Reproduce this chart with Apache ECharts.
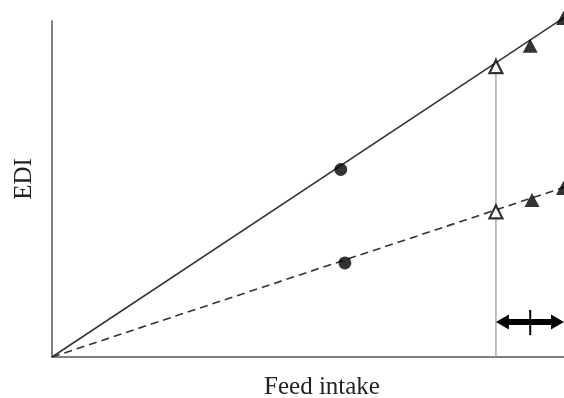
<!DOCTYPE html>
<html><head><meta charset="utf-8">
<script src="https://cdn.jsdelivr.net/npm/echarts@6/dist/echarts.min.js"></script>
<style>html,body{margin:0;padding:0;background:#fff}#c{width:564px;height:398px}</style>
</head><body><div id="c"></div>
<script>
// Solid line (upper) marks
const solidLine = [[0, 0], [100, 101]];
const solidCircle = [[56.4, 55.8]];
const solidOpenTri = [[86.7, 86.4]];
const solidFilledTri = [[93.4, 92.6], [99.9, 100.9]];
// Dashed line (lower) marks
const dashedLine = [[0, 0], [100, 50.5]];
const dashedCircle = [[57.2, 28.0]];
const dashedOpenTri = [[86.7, 43.2]];
const dashedFilledTri = [[93.75, 46.7], [99.9, 50.3]];
// Vertical reference line and double arrow
const vLine = [[86.7, 0], [86.7, 89.3]];
const arrowX = [86.7, 100];
const arrowY = 10.4;
const tickX = 93.4;
const tickY = [6.5, 14];

const chart = echarts.init(document.getElementById('c'));
const font = '"Liberation Serif", "Times New Roman", serif';
chart.setOption({
  animation: false,
  grid: {left: 52, right: 0, top: 21, bottom: 41, containLabel: false, outerBoundsMode: 'none'},
  xAxis: {type: 'value', min: 0, max: 100,
    name: 'Feed intake', nameLocation: 'middle', nameGap: 18,
    nameTextStyle: {fontFamily: font, fontSize: 25, color: '#222', padding: [0, 0, 0, 28]},
    axisLine: {lineStyle: {color: '#555', width: 1.5}},
    axisTick: {show: false}, axisLabel: {show: false}, splitLine: {show: false}},
  yAxis: {type: 'value', min: 0, max: 100,
    name: 'EDI', nameLocation: 'middle', nameGap: 15,
    nameTextStyle: {fontFamily: font, fontSize: 25, color: '#222', padding: [0, 0, 0, 20]},
    axisLine: {show: true, lineStyle: {color: '#555', width: 1.5}},
    axisTick: {show: false}, axisLabel: {show: false}, splitLine: {show: false}},
  series: [
    {type: 'line', data: vLine, showSymbol: false, lineStyle: {color: '#aaa', width: 1.5}, z: 1},
    {type: 'line', data: solidLine, showSymbol: false, clip: false, lineStyle: {color: '#333', width: 1.5}, z: 2},
    {type: 'line', data: dashedLine, showSymbol: false, clip: false, lineStyle: {color: '#333', width: 1.6, type: [8, 5]}, z: 2},
    {type: 'scatter', data: solidCircle.concat(dashedCircle), symbol: 'circle', symbolSize: 13, itemStyle: {color: '#000'}, z: 3},
    {type: 'scatter', data: solidFilledTri.concat(dashedFilledTri), symbol: 'triangle', symbolSize: [15, 14], clip: false, itemStyle: {color: '#000'}, z: 3},
    {type: 'scatter', data: solidOpenTri.concat(dashedOpenTri), symbol: 'triangle', symbolSize: [13, 13], itemStyle: {color: '#fff', borderColor: '#000', borderWidth: 2.2}, z: 4},
    {type: 'custom', data: [[arrowX[0], arrowX[1], arrowY, tickX, tickY[0], tickY[1]]], clip: false, z: 5,
      renderItem: function (params, api) {
        const p0 = api.coord([api.value(0), api.value(2)]);
        const p1 = api.coord([api.value(1), api.value(2)]);
        const t0 = api.coord([api.value(3), api.value(4)]);
        const t1 = api.coord([api.value(3), api.value(5)]);
        const hl = 13, hh = 7.5, bh = 3;
        const y = p0[1];
        const pts = [
          [p0[0], y], [p0[0] + hl, y - hh], [p0[0] + hl, y - bh], [p1[0] - hl, y - bh],
          [p1[0] - hl, y - hh], [p1[0], y], [p1[0] - hl, y + hh], [p1[0] - hl, y + bh],
          [p0[0] + hl, y + bh], [p0[0] + hl, y + hh]
        ];
        return {type: 'group', children: [
          {type: 'polygon', shape: {points: pts}, style: {fill: '#000'}},
          {type: 'line', shape: {x1: t0[0], y1: t0[1], x2: t1[0], y2: t1[1]}, style: {stroke: '#000', lineWidth: 2}}
        ]};
      }}
  ]
});
</script></body></html>
